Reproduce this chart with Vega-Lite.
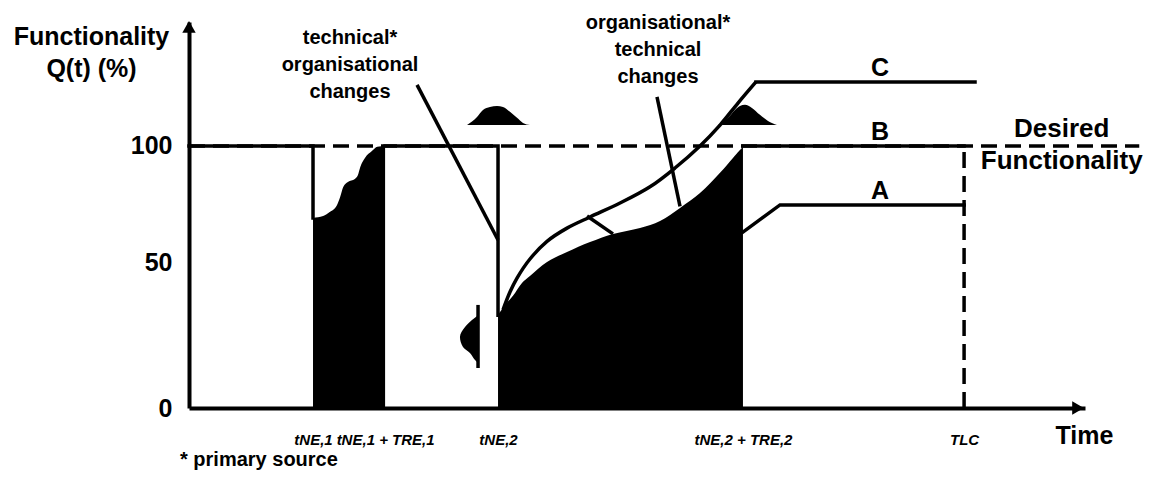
{
  "$schema": "https://vega.github.io/schema/vega-lite/v6.json",
  "width": 896,
  "height": 386,
  "autosize": "none",
  "padding": {"left": 189, "top": 22, "right": 67, "bottom": 75},
  "background": "white",
  "config": {"view": {"stroke": null}, "font": "Liberation Sans"},
  "datasets": {
    "black1": [
      {"t": 16.0, "q": 69.0}, {"t": 17.3, "q": 69.8}, {"t": 18.2, "q": 71.6}, {"t": 19.1, "q": 74.6},
      {"t": 19.5, "q": 78.0}, {"t": 19.9, "q": 82.3}, {"t": 20.5, "q": 84.5}, {"t": 21.4, "q": 85.8},
      {"t": 21.8, "q": 87.5}, {"t": 22.1, "q": 90.9}, {"t": 22.7, "q": 94.8}, {"t": 23.6, "q": 97.8},
      {"t": 24.3, "q": 99.6}, {"t": 25.3, "q": 100}
    ],
    "black2": [
      {"t": 39.87, "q": 31.8}, {"t": 40.77, "q": 35.3}, {"t": 41.8, "q": 38.4}, {"t": 42.96, "q": 42.8},
      {"t": 43.99, "q": 45.2}, {"t": 46.19, "q": 50.0}, {"t": 48.77, "q": 54.3}, {"t": 51.74, "q": 58.6},
      {"t": 54.7, "q": 62.1}, {"t": 58.19, "q": 64.7}, {"t": 60.77, "q": 67.7}, {"t": 63.35, "q": 73.3},
      {"t": 65.93, "q": 79.7}, {"t": 68.51, "q": 88.4}, {"t": 70.18, "q": 94.8}, {"t": 71.47, "q": 99.6}
    ],
    "curveC": [
      {"t": 40.51, "q": 33.6}, {"t": 41.41, "q": 39.7}, {"t": 42.32, "q": 44.5}, {"t": 43.99, "q": 51.3},
      {"t": 46.19, "q": 58.9}, {"t": 48.77, "q": 64.6}, {"t": 51.74, "q": 69.4}, {"t": 55.61, "q": 75.4},
      {"t": 59.48, "q": 82.4}, {"t": 62.7, "q": 90.5}, {"t": 65.93, "q": 100.0}, {"t": 68.51, "q": 109.0},
      {"t": 70.83, "q": 118.5}, {"t": 73.15, "q": 127.6}
    ],
    "bell1": [
      {"t": 35.87, "q": 109.0}, {"t": 37.16, "q": 112.5}, {"t": 37.93, "q": 115.5}, {"t": 38.83, "q": 116.8},
      {"t": 39.74, "q": 117.2}, {"t": 40.51, "q": 116.8}, {"t": 41.41, "q": 114.7}, {"t": 42.32, "q": 112.1},
      {"t": 43.09, "q": 109.9}, {"t": 43.99, "q": 109.0}
    ],
    "bell2": [
      {"t": 68.25, "q": 109.0}, {"t": 69.54, "q": 112.1}, {"t": 70.44, "q": 115.5}, {"t": 71.08, "q": 117.2},
      {"t": 71.73, "q": 117.7}, {"t": 72.63, "q": 116.4}, {"t": 73.66, "q": 113.4}, {"t": 74.7, "q": 110.8},
      {"t": 75.86, "q": 109.0}
    ],
    "bell3": [
      {"t": 37.29, "q": 31.8}, {"t": 36.51, "q": 30.1}, {"t": 35.61, "q": 27.7}, {"t": 34.96, "q": 24.3},
      {"t": 35.35, "q": 20.9}, {"t": 36.25, "q": 18.8}, {"t": 36.9, "q": 16.4}, {"t": 37.29, "q": 15.4}
    ],
    "paths": [
      {"id": "p1", "i": 1, "t": 0, "q": 100}, {"id": "p1", "i": 2, "t": 16.0, "q": 100}, {"id": "p1", "i": 3, "t": 16.0, "q": 69.0},
      {"id": "p2", "i": 1, "t": 25.3, "q": 100}, {"id": "p2", "i": 2, "t": 39.87, "q": 100}, {"id": "p2", "i": 3, "t": 39.87, "q": 31.8},
      {"id": "B", "i": 1, "t": 71.47, "q": 100}, {"id": "B", "i": 2, "t": 100, "q": 100},
      {"id": "A", "i": 1, "t": 71.47, "q": 62.9}, {"id": "A", "i": 2, "t": 76.25, "q": 74.6}, {"id": "A", "i": 3, "t": 100, "q": 74.6},
      {"id": "C", "i": 1, "t": 73.15, "q": 127.6}, {"id": "C", "i": 2, "t": 101.41, "q": 127.6}
    ],
    "segments": [
      {"t": 29.42, "q": 126.3, "t2": 39.87, "q2": 59.5},
      {"t": 60.38, "q": 121.1, "t2": 63.35, "q2": 74.0},
      {"t": 51.35, "q": 69.8, "t2": 54.7, "q2": 62.1},
      {"t": 37.29, "q": 35.3, "t2": 37.29, "q2": 13.7}
    ],
    "dashed": [
      {"t": 0, "q": 100, "t2": 122.6, "q2": 100},
      {"t": 100, "q": 0, "t2": 100, "q2": 100}
    ],
    "notes": [
      {"t": 20.77, "q": 144.0, "label": "technical*\norganisational\nchanges"},
      {"t": 60.51, "q": 150.4, "label": "organisational*\ntechnical\nchanges"}
    ],
    "curveLabels": [
      {"t": 89.15, "q": 127.6, "label": "C"},
      {"t": 89.15, "q": 100, "label": "B"},
      {"t": 89.15, "q": 74.6, "label": "A"}
    ],
    "desired": [{"t": 112.6, "q": 103.9, "label": "Desired\nFunctionality"}],
    "footnote": [{"t": -1.16, "q": -17.8, "label": "* primary source"}],
    "arrowY": [{"t": 0, "q": 151.3}],
    "arrowX": [{"t": 114.7, "q": 0}]
  },
  "encoding": {
    "x": {
      "field": "t", "type": "quantitative",
      "scale": {"domain": [0, 115.6], "nice": false, "zero": false},
      "axis": {
        "values": [16.0, 25.3, 39.87, 71.47, 100],
        "labelExpr": "datum.value < 20 ? 'tNE,1' : datum.value < 30 ? 'tNE,1 + TRE,1' : datum.value < 50 ? 'tNE,2' : datum.value < 80 ? 'tNE,2 + TRE,2' : 'TLC'",
        "domainWidth": 4, "domainColor": "black", "ticks": false, "grid": false,
        "labelFont": "Liberation Sans", "labelFontStyle": "italic", "labelFontWeight": "bold",
        "labelFontSize": 15, "labelColor": "black", "labelPadding": 24, "labelOverlap": false, "labelFlush": false,
        "title": "Time", "titleFontSize": 25, "titleFontWeight": "bold", "titleColor": "black",
        "titleX": 895, "titleY": 27, "titleAlign": "center", "titleBaseline": "middle"
      }
    },
    "y": {
      "field": "q", "type": "quantitative",
      "scale": {"type": "linear", "domain": [0, 50, 153.4], "range": [386, 240, 0], "nice": false, "zero": false},
      "axis": {
        "values": [0, 50, 100],
        "domainWidth": 4, "domainColor": "black", "ticks": false, "grid": false,
        "labelFontSize": 25, "labelFontWeight": "bold", "labelPadding": 17, "labelColor": "black",
        "title": ["Functionality", "Q(t) (%)"], "titleAngle": 0, "titleX": -98, "titleY": 22,
        "titleAlign": "center", "titleBaseline": "alphabetic", "titleFontSize": 25, "titleFontWeight": "bold",
        "titleLineHeight": 32, "titleColor": "black"
      }
    }
  },
  "layer": [
    {"data": {"name": "black1"}, "mark": {"type": "area", "color": "black", "interpolate": "monotone"}, "encoding": {"y2": {"datum": 0}}},
    {"data": {"name": "black2"}, "mark": {"type": "area", "color": "black", "interpolate": "catmull-rom"}, "encoding": {"y2": {"datum": 0}}},
    {"data": {"name": "bell1"}, "mark": {"type": "area", "color": "black", "interpolate": "monotone"}, "encoding": {"y2": {"datum": 109.0}}},
    {"data": {"name": "bell2"}, "mark": {"type": "area", "color": "black", "interpolate": "monotone"}, "encoding": {"y2": {"datum": 109.0}}},
    {"data": {"name": "bell3"}, "mark": {"type": "area", "color": "black", "orient": "horizontal", "interpolate": "monotone"}, "encoding": {"x2": {"datum": 37.29}}},
    {"data": {"name": "dashed"}, "mark": {"type": "rule", "color": "black", "strokeWidth": 3.5, "strokeDash": [16, 8]}, "encoding": {"x2": {"field": "t2"}, "y2": {"field": "q2"}}},
    {"data": {"name": "paths"}, "mark": {"type": "line", "color": "black", "strokeWidth": 3.5, "strokeJoin": "miter", "strokeCap": "square"}, "encoding": {"detail": {"field": "id"}, "order": {"field": "i"}}},
    {"data": {"name": "curveC"}, "mark": {"type": "line", "color": "black", "strokeWidth": 3.5, "interpolate": "catmull-rom"}},
    {"data": {"name": "segments"}, "mark": {"type": "rule", "color": "black", "strokeWidth": 3.5}, "encoding": {"x2": {"field": "t2"}, "y2": {"field": "q2"}}},
    {"data": {"name": "notes"}, "mark": {"type": "text", "align": "center", "baseline": "alphabetic", "fontSize": 20, "fontWeight": "bold", "lineBreak": "\n", "lineHeight": 27, "color": "black"}, "encoding": {"text": {"field": "label"}}},
    {"data": {"name": "curveLabels"}, "mark": {"type": "text", "align": "center", "baseline": "alphabetic", "dy": -6, "fontSize": 25, "fontWeight": "bold", "color": "black"}, "encoding": {"text": {"field": "label"}}},
    {"data": {"name": "desired"}, "mark": {"type": "text", "align": "center", "baseline": "alphabetic", "fontSize": 26, "fontWeight": "bold", "lineBreak": "\n", "lineHeight": 32, "color": "black"}, "encoding": {"text": {"field": "label"}}},
    {"data": {"name": "footnote"}, "mark": {"type": "text", "align": "left", "baseline": "middle", "fontSize": 20, "fontWeight": "bold", "color": "black"}, "encoding": {"text": {"field": "label"}}},
    {"data": {"name": "arrowY"}, "mark": {"type": "point", "shape": "triangle-up", "filled": true, "color": "black", "size": 180, "opacity": 1}},
    {"data": {"name": "arrowX"}, "mark": {"type": "point", "shape": "triangle-right", "filled": true, "color": "black", "size": 180, "opacity": 1}}
  ]
}
